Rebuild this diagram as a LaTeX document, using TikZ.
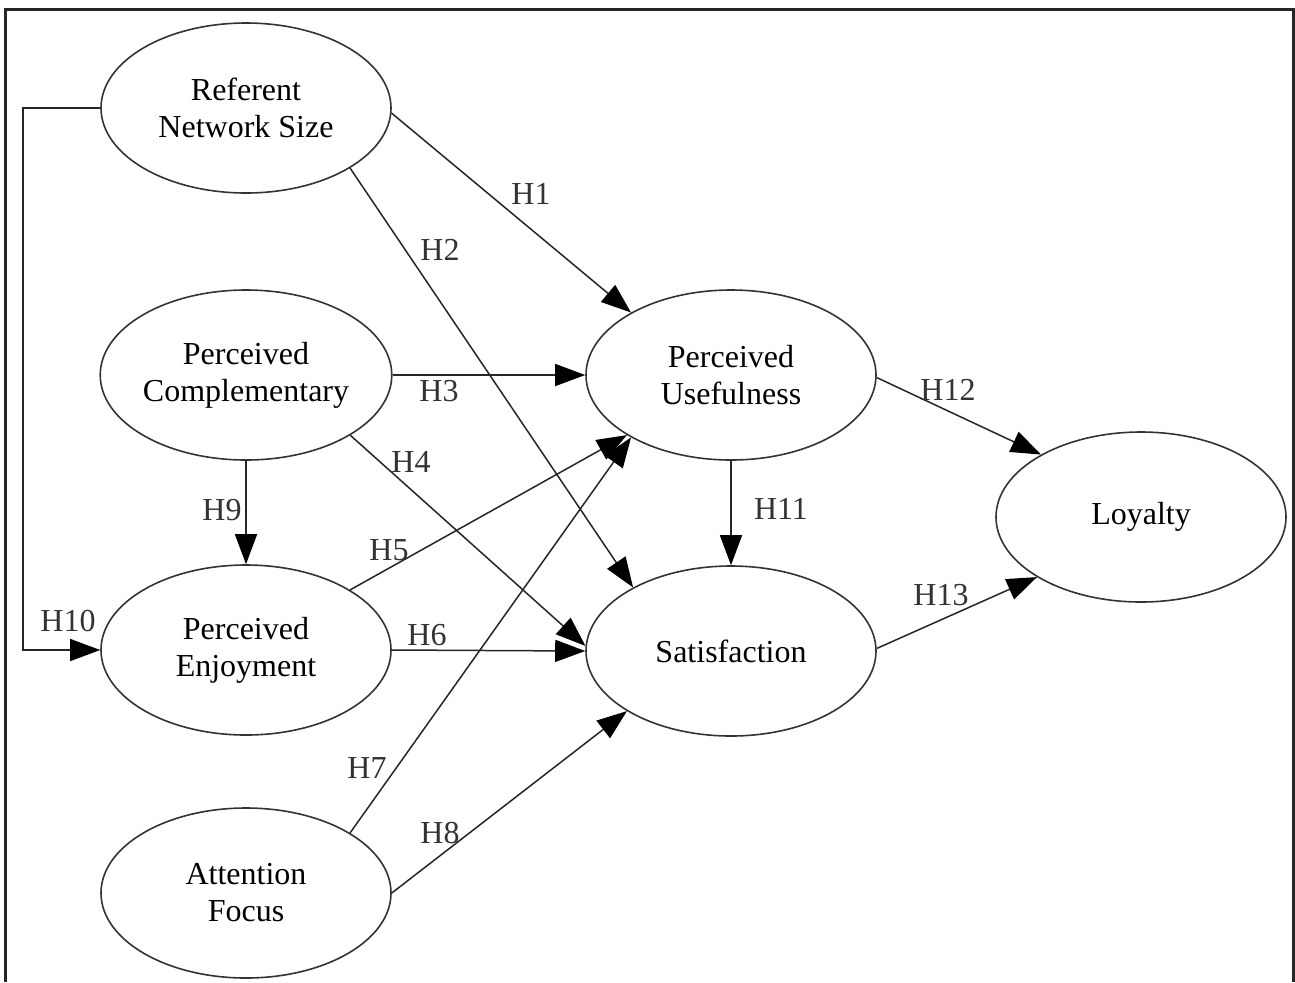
\documentclass[tikz,border=0pt]{standalone}
\usepackage{fontspec}
\setmainfont{Liberation Serif}
\usetikzlibrary{shapes.geometric,arrows.meta}
\begin{document}
\begin{tikzpicture}[x=0.5pt,y=-0.5pt,
  var/.style={ellipse,draw=black!80,line width=0.8pt,minimum width=145pt,minimum height=85pt,inner sep=0pt,align=center,font=\fontsize{16}{18.5}\selectfont},
  arr/.style={draw=black!85,line width=0.75pt,-{Triangle[length=15pt,width=11pt,color=black]}},
  lab/.style={font=\fontsize{16}{18}\selectfont,text=black!80,inner sep=0pt}]
\useasboundingbox (0,0) rectangle (1295,982);
\fill[white] (0,0) rectangle (1295,982);
\draw[line width=1.5pt,black!85] (5,982) -- (5,9) -- (1293,9) -- (1293,982);

\node[var] (rns) at (246,108) {Referent\\Network Size};
\node[var] (pc)  at (246,375) {Perceived\\Complementary};
\node[var] (pe)  at (246,650) {Perceived\\Enjoyment};
\node[var] (af)  at (246,893) {Attention\\Focus};
\node[var] (pu)  at (731,375) {Perceived\\Usefulness};
\node[var] (sat) at (731,651) {Satisfaction};
\node[var] (loy) at (1141,517) {Loyalty};

\coordinate (lk) at (23,650);

\draw[arr] (rns.-2) -- (pu.148);
\draw[arr] (rns.-30) -- (sat.147);
\draw[arr] (pc.east) -- (pu.west);
\draw[arr] (pc.-30) -- (sat.178);
\draw[arr] (pe.30) -- (pu.210);
\draw[arr] (pe.east) -- (sat.west);
\draw[arr] (af.30) -- (pu.212);
\draw[arr] (af.east) -- (sat.210);
\draw[arr] (pc.south) -- (pe.north);
\draw[arr] (rns.west) -| (lk) -- (pe.west);
\draw[arr] (pu.south) -- (sat.north);
\draw[arr] (pu.-1) -- (loy.148);
\draw[arr] (sat.1) -- (loy.210);

\node[lab] (l1)  at (531,194) {H1};
\node[lab] (l2)  at (440,250) {H2};
\node[lab] (l3)  at (439,391) {H3};
\node[lab] (l4)  at (411,462) {H4};
\node[lab] (l5)  at (389,550) {H5};
\node[lab] (l6)  at (427,635) {H6};
\node[lab] (l7)  at (367,768) {H7};
\node[lab] (l8)  at (440,833) {H8};
\node[lab] (l9)  at (222,510) {H9};
\node[lab] (l10) at (68,621)  {H10};
\node[lab] (l11) at (781,509) {H11};
\node[lab] (l12) at (948,390) {H12};
\node[lab] (l13) at (941,595) {H13};
\end{tikzpicture}
\end{document}
